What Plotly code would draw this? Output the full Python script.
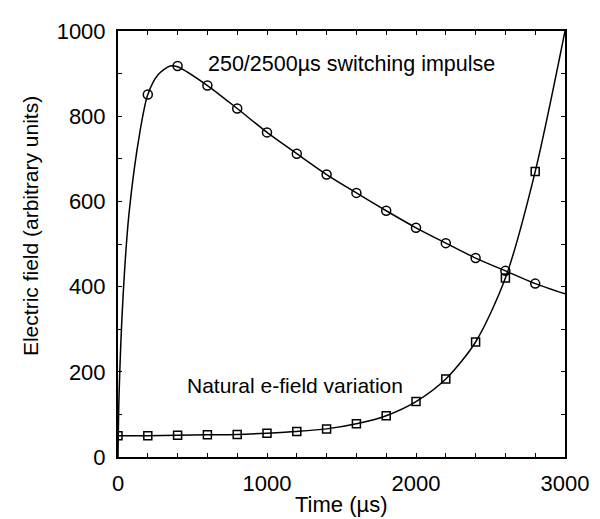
import plotly.graph_objects as go

# Marker samples (every 200 us)
imp_t = [200, 400, 600, 800, 1000, 1200, 1400, 1600, 1800, 2000, 2200, 2400, 2600, 2800]
imp_v = [851, 918, 872, 818, 762, 712, 663, 620, 578, 538, 502, 467, 437, 407]

nat_t = [0, 200, 400, 600, 800, 1000, 1200, 1400, 1600, 1800, 2000, 2200, 2400, 2600, 2800]
nat_v = [50, 50, 51, 52, 53, 56, 60, 66, 78, 97, 130, 183, 270, 420, 670]

# Curve points
imp_line_t = [0, 7, 34, 74, 148, 200, 270, 350, 400, 600, 800, 1000, 1200, 1400, 1600, 1800, 2000, 2200, 2400, 2600, 2800, 3000]
imp_line_v = [0, 144, 377, 572, 765, 851, 898, 918, 916, 872, 818, 762, 712, 663, 620, 578, 538, 502, 467, 437, 407, 383]

nat_line_t = [0, 200, 400, 600, 800, 1000, 1200, 1400, 1600, 1800, 2000, 2200, 2400, 2600, 2800, 3000]
nat_line_v = [50, 50, 51, 52, 53, 56, 60, 66, 78, 97, 130, 183, 270, 420, 670, 1000]

FONT = "Liberation Sans, Arial, sans-serif"

fig = go.Figure()
fig.add_trace(go.Scatter(x=imp_line_t, y=imp_line_v, mode="lines", line=dict(color="black", width=1.5, shape="spline", smoothing=0.8), showlegend=False, hoverinfo="skip"))
fig.add_trace(go.Scatter(x=nat_line_t, y=nat_line_v, mode="lines", line=dict(color="black", width=1.5, shape="spline", smoothing=0.8), showlegend=False, hoverinfo="skip"))
fig.add_trace(go.Scatter(x=imp_t, y=imp_v, mode="markers", marker=dict(symbol="circle-open", size=9, color="black", line=dict(width=1.5, color="black")), showlegend=False))
fig.add_trace(go.Scatter(x=nat_t, y=nat_v, mode="markers", marker=dict(symbol="square-open", size=8, color="black", line=dict(width=1.5, color="black")), showlegend=False))

axis_common = dict(
    showgrid=False, zeroline=False, showline=True, linecolor="black", linewidth=2,
    mirror="ticks", ticks="inside", ticklen=4, tickwidth=1, tickcolor="black",
    tickfont=dict(family=FONT, size=22, color="black"),
)

fig.update_xaxes(range=[0, 3000], dtick=1000, tick0=0, ticklabelstandoff=6,
                 minor=dict(dtick=200, ticks="inside", ticklen=4, tickcolor="black", tickwidth=1),
                 **axis_common)
fig.update_yaxes(range=[0, 1000], dtick=200, tick0=0, ticklabelstandoff=6,
                 minor=dict(dtick=100, ticks="inside", ticklen=4, tickcolor="black", tickwidth=1),
                 **axis_common)

fig.add_annotation(text="250/2500\u00b5s switching impulse", x=1567, y=923, xref="x", yref="y",
                   xanchor="center", yanchor="middle",
                   showarrow=False, font=dict(family=FONT, size=21.5, color="black"))
fig.add_annotation(text="Natural e-field variation", x=1190, y=168, xref="x", yref="y",
                   xanchor="center", yanchor="middle",
                   showarrow=False, font=dict(family=FONT, size=21, color="black"))

fig.add_annotation(text="Time (\u00b5s)", x=0.5, y=-0.112, xref="paper", yref="paper",
                   xanchor="center", yanchor="middle",
                   showarrow=False, font=dict(family=FONT, size=22, color="black"))
fig.add_annotation(text="Electric field (arbitrary units)", x=-0.197, y=0.542, xref="paper", yref="paper",
                   xanchor="center", yanchor="middle",
                   textangle=-90, showarrow=False, font=dict(family=FONT, size=21, color="black"))

# the page body adds an 8px offset, so the figure is sized to fit the window
fig.update_layout(
    width=592, height=511,
    margin=dict(l=110, r=28, t=11, b=62),
    paper_bgcolor="white", plot_bgcolor="white",
    font=dict(family=FONT, color="black"),
)

fig.write_html("out.html")
